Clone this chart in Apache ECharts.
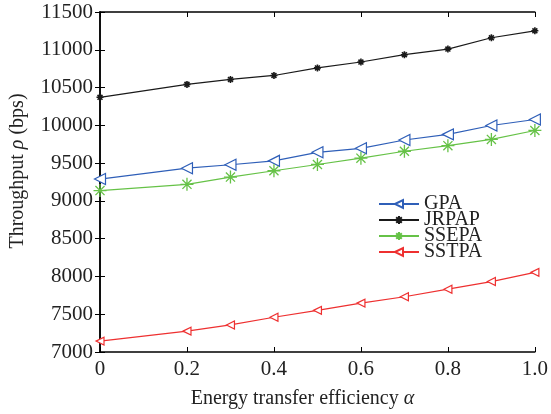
<!DOCTYPE html>
<html>
<head>
<meta charset="utf-8">
<script src="https://cdn.jsdelivr.net/npm/echarts@6/dist/echarts.min.js"></script>
<style>
html,body{margin:0;padding:0;background:#fff;}
#chart{width:551px;height:414px;}
</style>
</head>
<body>
<div id="chart"></div>
<script>
// Energy transfer efficiency values (x) and throughput of each scheme
const alpha = [0, 0.2, 0.3, 0.4, 0.5, 0.6, 0.7, 0.8, 0.9, 1.0];
const gpa   = [9289, 9433, 9478, 9530, 9643, 9696, 9806, 9880, 9998, 10077];
const jrpap = [10371, 10542, 10607, 10660, 10760, 10838, 10935, 11009, 11159, 11251];
const ssepa = [9137, 9219, 9315, 9399, 9482, 9565, 9657, 9731, 9814, 9932];
const sstpa = [7144, 7276, 7358, 7460, 7551, 7647, 7731, 7831, 7932, 8054];
const xTickLabels = ['0', '0.2', '0.4', '0.6', '0.8', '1.0'];
const yTickLabels = ['7000','7500','8000','8500','9000','9500','10000','10500','11000','11500'];

const FONT = 'Liberation Serif';
const TXT = '#222';
const pairs = ys => alpha.map((a, i) => [a, ys[i]]);

const leftTri = 'path://M0,5L10,0L10,10Z';
const star = 'path://M5,0L5,10M0,5L10,5M1.5,1.5L8.5,8.5M1.5,8.5L8.5,1.5';

function lineSeries(name, ys, color, symbol, size, width) {
  return {
    name, type: 'line', data: pairs(ys),
    symbol, symbolSize: size, showAllSymbol: true,
    lineStyle: { color, width: 1.2 },
    itemStyle: { color: symbol === star ? color : '#fff', borderColor: color, borderWidth: width },
    emphasis: { disabled: true },
    animation: false
  };
}

const titleRich = {
  n: { fontFamily: FONT, fontSize: 20, color: TXT },
  i: { fontFamily: FONT, fontSize: 20, color: TXT, fontStyle: 'italic' }
};

const chart = echarts.init(document.getElementById('chart'));
const axisLine = { show: true, lineStyle: { color: '#000', width: 1.5 } };
const tick = { show: true, inside: true, length: 5, lineStyle: { color: '#000', width: 1 } };

chart.setOption({
  backgroundColor: '#fff',
  animation: false,
  grid: { left: 97, right: 13, top: 12, bottom: 59 },
  legend: {
    left: 373, top: 189, orient: 'vertical',
    itemWidth: 40, itemHeight: 10, itemGap: -4,
    textStyle: { fontFamily: FONT, fontSize: 20, color: TXT, lineHeight: 16, padding: [0, 0, 0, 0] },
    data: ['GPA', 'JRPAP', 'SSEPA', 'SSTPA']
  },
  xAxis: [{
    type: 'value', min: 0, max: 1, interval: 0.2,
    name: '{n|Energy transfer efficiency }{i|\u03B1}', nameLocation: 'middle', nameGap: 37,
    nameTextStyle: { fontFamily: FONT, fontSize: 20, color: TXT, padding: [0, 30, 0, 0], rich: titleRich },
    axisLine, axisTick: tick, splitLine: { show: false },
    axisLabel: { fontFamily: FONT, fontSize: 21, color: TXT, margin: 7,
      formatter: v => xTickLabels[Math.round(v / 0.2)] }
  }, {
    type: 'value', position: 'top', min: 0, max: 1, interval: 0.2,
    axisLine, axisTick: tick, axisLabel: { show: false }, splitLine: { show: false }
  }],
  yAxis: [{
    type: 'value', min: 7000, max: 11500, interval: 500,
    name: '{n|Throughput }{i|\u03C1}{n| (bps)}', nameLocation: 'middle', nameGap: 72,
    nameTextStyle: { fontFamily: FONT, fontSize: 20, color: TXT, padding: [0, 0, 0, 22], rich: titleRich },
    axisLine, axisTick: tick, splitLine: { show: false },
    axisLabel: { fontFamily: FONT, fontSize: 21, color: TXT, margin: 7,
      formatter: v => yTickLabels[Math.round((v - 7000) / 500)] }
  }, {
    type: 'value', position: 'right', min: 7000, max: 11500, interval: 500,
    axisLine, axisTick: tick, axisLabel: { show: false }, splitLine: { show: false }
  }],
  series: [
    lineSeries('GPA', gpa, '#2f5fb8', leftTri, 11, 1.2),
    lineSeries('JRPAP', jrpap, '#1a1a1a', star, 7, 1.6),
    lineSeries('SSEPA', ssepa, '#66c247', star, 13, 1.3),
    lineSeries('SSTPA', sstpa, '#ee3030', leftTri, 8, 1.2)
  ]
});
</script>
</body>
</html>
